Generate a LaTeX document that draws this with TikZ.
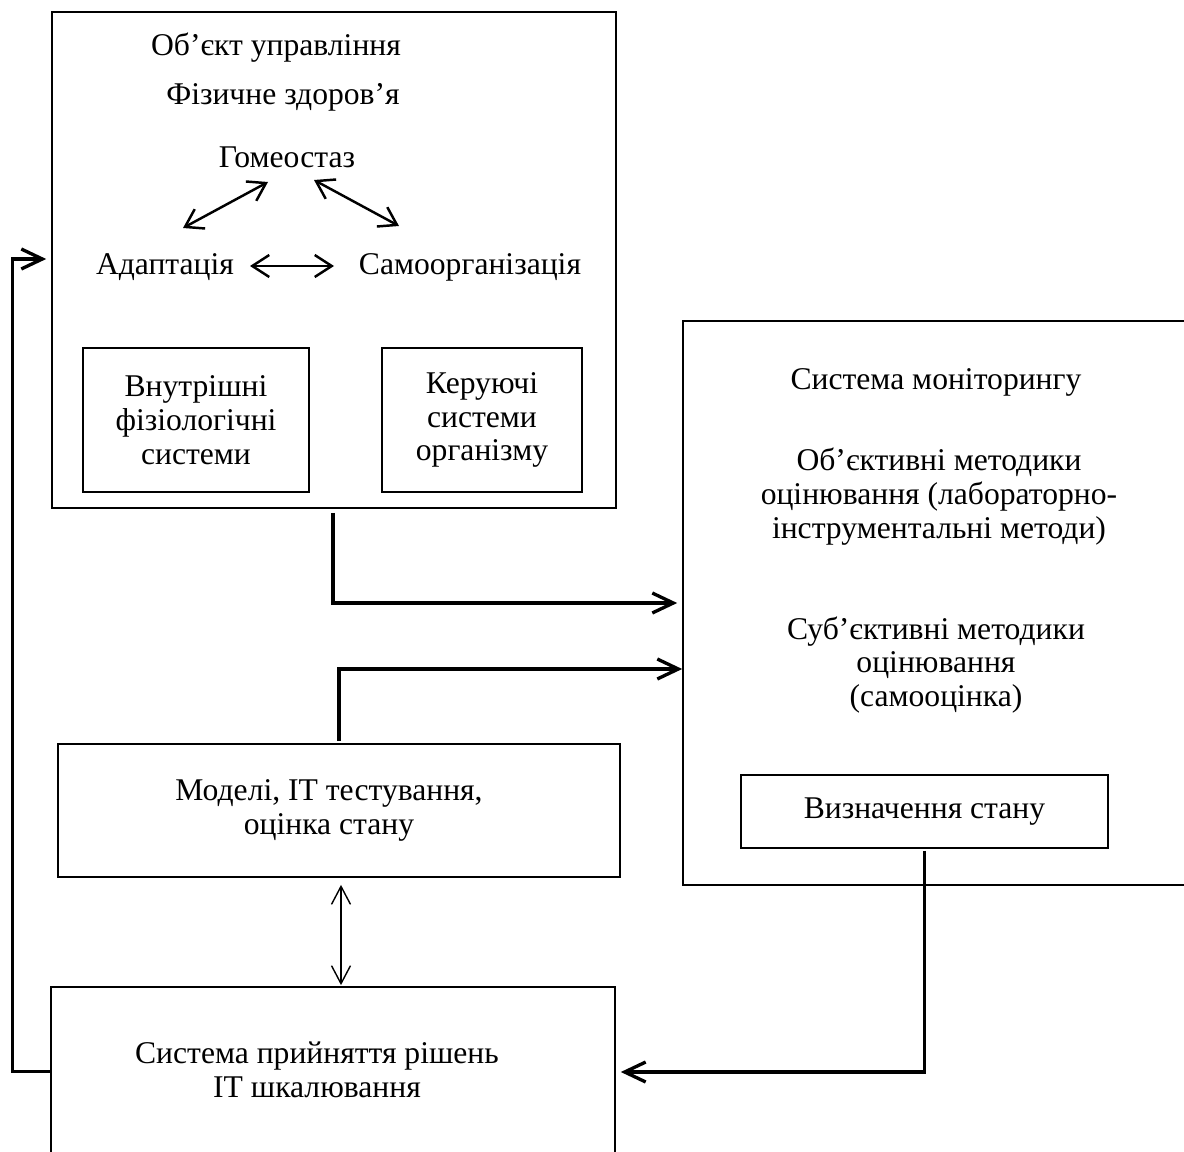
\documentclass[tikz,border=0pt]{standalone}
\usepackage{fontspec}
\setmainfont{Liberation Serif}
\usetikzlibrary{arrows.meta, positioning, calc}

\begin{document}
\begin{tikzpicture}[x=0.02cm, y=-0.02cm,
    font=\fontsize{18}{19.3}\selectfont,
    every node/.append style={align=center},
    box/.style={draw, line width=1pt, inner sep=0pt},
    conn/.style={line width=1.9pt, -{Straight Barb[length=4.2mm, width=4mm]}},
    dbl/.style={line width=1.4pt, {Straight Barb[length=3.4mm, width=4.4mm]}-{Straight Barb[length=3.4mm, width=4.4mm]}},
    thindbl/.style={line width=0.8pt, {Straight Barb[length=3.6mm, width=3.8mm]}-{Straight Barb[length=3.6mm, width=3.8mm]}}]
                \useasboundingbox (0,0) rectangle (1184,1152);
                % Object of control
                \node[box, minimum width=11.28cm, minimum height=9.92cm] (obj) at (334,260) {};
                \node (title) at (276,48) {Об’єкт управління};
                \node (health) at (283,97) {Фізичне здоров’я};
                \node (gomeo) at (287,157) {Гомеостаз};
                \node (adapt) at (165,267) {Адаптація};
                \node (samo) at (470,267) {Самоорганізація};
                \draw[dbl] ($(adapt.center)+(18,-39)$) -- ($(gomeo.center)+(-19,25)$);
                \draw[dbl] ($(gomeo.center)+(27,23)$) -- ($(samo.center)+(-71,-41)$);
                \draw[dbl] ($(adapt.center)+(85,-1)$) -- ($(samo.center)+(-136,-1)$);
                \node[box, minimum width=4.52cm, minimum height=2.88cm] (fiz) at (196,420) {Внутрішні\\фізіологічні\\системи};
                \node[box, minimum width=4cm, minimum height=2.88cm] (ker) at (482,420) {Керуючі\\системи\\організму};
                % Monitoring
                \node[box, minimum width=10.14cm, minimum height=11.28cm] (mon) at (936.5,603) {};
                \node (monT) at (936,382) {Система моніторингу};
                \node (objM) at (939,497) {Об’єктивні методики\\оцінювання (лабораторно-\\інструментальні методи)};
                \node (subM) at (936,665) {Суб’єктивні методики\\оцінювання\\(самооцінка)};
                \node[box, minimum width=7.34cm, minimum height=1.46cm] (stan) at (924.5,811.5) {Визначення стану};
                % Models and decisions
                \node[box, minimum width=11.24cm, minimum height=2.66cm] (model) at (339,810.5) {};
                \node (modelT) at (329,810) {Моделі, ІТ тестування,\\оцінка стану};
                \node[box, minimum width=11.28cm, minimum height=3.46cm] (rish) at (333,1073.5) {};
                \node (rishT) at (317,1070) {Система прийняття рішень\\ІТ шкалювання};
                % Connectors
                \draw[conn] ($(obj.south)+(-1,4)$) |- ($(mon.west)+(-5,0)$);
                \draw[conn] ($(model.north)+(0,-2)$) |- ($(mon.west)+(0,66)$);
                \draw[thindbl] ($(model.south)+(2,7)$) -- ($(rish.north)+(8,-1)$);
                \draw[conn] ($(stan.south)+(0,2)$) |- ($(rish.east)+(5,-1.5)$);
                \draw[conn] ($(rish.west)+(0,-2)$) -- ++(-38,0) |- ($(obj.west)+(-5,-1)$);
            \end{tikzpicture}
\end{document}
